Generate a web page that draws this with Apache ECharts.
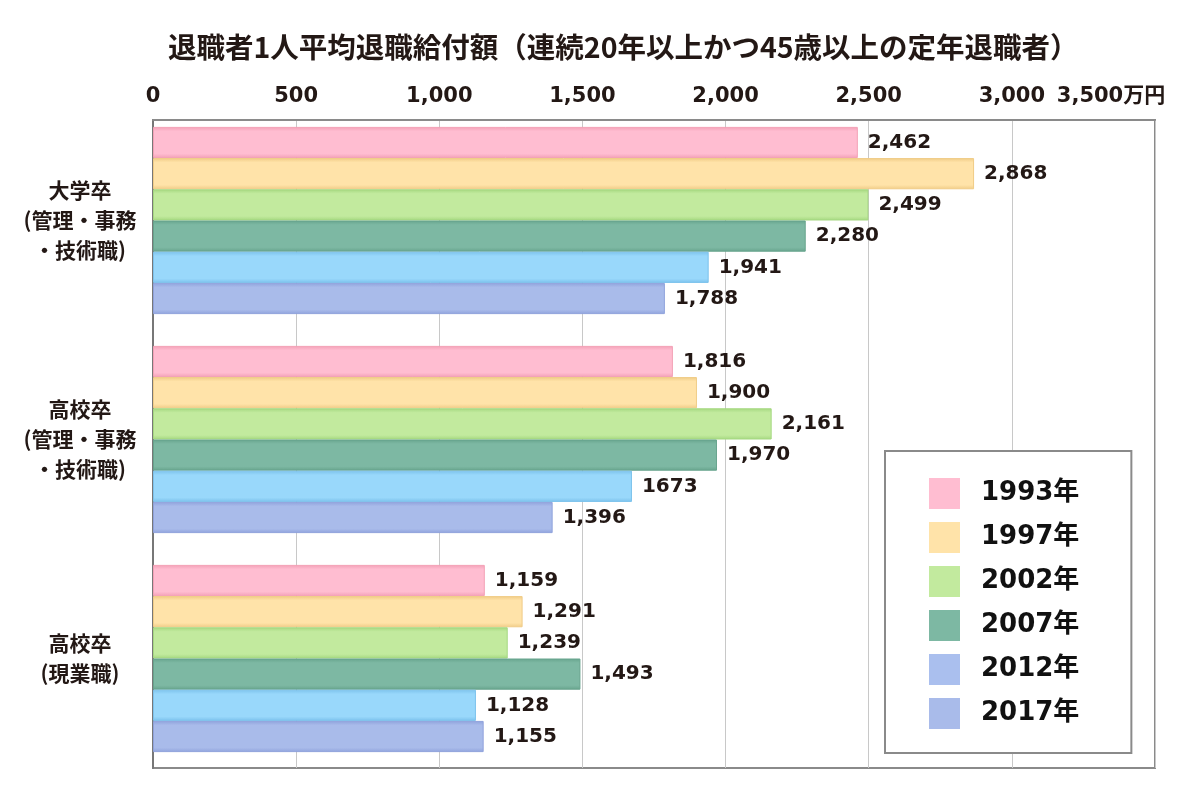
<!DOCTYPE html>
<html><head><meta charset="utf-8">
<script src="https://cdn.jsdelivr.net/npm/echarts@6/dist/echarts.min.js"></script>
<style>html,body{margin:0;padding:0;background:#fff}#c{width:1200px;height:800px}</style>
</head><body><div id="c"></div>
<script>
const titleText = '退職者1人平均退職給付額（連続20年以上かつ45歳以上の定年退職者）';
const categories = ['大学卒\n(管理・事務\n・技術職)', '高校卒\n(管理・事務\n・技術職)', '高校卒\n(現業職)'];
const years = ['1993年', '1997年', '2002年', '2007年', '2012年', '2017年'];
const s1993 = [2462, 1816, 1159];
const s1997 = [2868, 1900, 1291];
const s2002 = [2499, 2161, 1239];
const s2007 = [2280, 1970, 1493];
const s2012 = [1941, 1673, 1128];
const s2017 = [1788, 1396, 1155];
const seriesValues = [s1993, s1997, s2002, s2007, s2012, s2017];
// label shown without a thousands separator in the original
const plainLabels = { '2012年': [1] };
const axisMin = 0, axisMax = 3500, axisStep = 500;
const axisUnit = '万円';

const baseColors = ['#FFBDD1', '#FFE3A9', '#C2EA9E', '#7DB8A3', '#99D8FB', '#A9BBEA'];
const edgeColors = ['#F3A0B6', '#F0CC86', '#A5D880', '#67A48D', '#7CC2EC', '#8FA2DC'];
const legendColors = ['#FFBDD1', '#FFE3A9', '#C2EA9E', '#7DB8A3', '#AABFEE', '#A9BBEA'];

const FONT = '"DejaVu Sans", "Noto Sans CJK JP", sans-serif';
const CJK = '"Noto Sans CJK JP", sans-serif';
const INK = '#231815';

function fmt(v) { return v.toLocaleString('en-US'); }

const chart = echarts.init(document.getElementById('c'));
chart.setOption({
  backgroundColor: '#fff',
  animation: false,
  title: {
    text: titleText, left: 163, top: 28,
    textStyle: { fontFamily: CJK, fontWeight: 'bold', fontSize: 28.5, color: INK }
  },
  grid: [
    // bars grid (category bands)
    { left: 153, right: 45, top: 111, bottom: 32, show: false, outerBoundsMode: 'none', containLabel: false },
    // frame / value-axis grid
    { left: 153, right: 45, top: 120, bottom: 32, show: true, borderColor: '#8a8a8a', borderWidth: 2, outerBoundsMode: 'none', containLabel: false }
  ],
  xAxis: [
    { gridIndex: 0, type: 'value', min: axisMin, max: axisMax, interval: axisStep, show: false },
    {
      gridIndex: 1, type: 'value', position: 'top', min: axisMin, max: axisMax, interval: axisStep,
      axisLine: { show: true, lineStyle: { color: '#8a8a8a', width: 2 } },
      axisTick: { show: false },
      splitLine: { show: true, lineStyle: { color: '#c8c8c8', width: 1 } },
      axisLabel: {
        margin: 13, fontFamily: FONT, fontWeight: 'bold', fontSize: 21, color: INK,
        formatter: v => v === axisMax ? fmt(v) + axisUnit + '{p|}' : fmt(v),
        rich: { p: { width: 88 } }
      }
    }
  ],
  yAxis: [
    {
      gridIndex: 0, type: 'category', inverse: true, data: categories,
      axisLine: { show: false }, axisTick: { show: false },
      axisLabel: { margin: 73, align: 'center', fontFamily: CJK, fontWeight: 'bold', fontSize: 21, lineHeight: 30, color: INK }
    },
    {
      gridIndex: 1, type: 'category', inverse: true, data: categories,
      axisLine: { show: true, lineStyle: { color: '#777', width: 2 } },
      axisTick: { show: false }, axisLabel: { show: false }
    }
  ],
  legend: {
    orient: 'vertical', left: 885, top: 451,
    padding: [27, 52, 24, 44],
    borderColor: '#8a8a8a', borderWidth: 2, backgroundColor: '#fff',
    itemWidth: 31, itemHeight: 31, itemGap: 13, icon: 'rect',
    textStyle: { fontFamily: FONT, fontWeight: 'bold', fontSize: 26, color: '#111', padding: [0, 0, 0, 16] },
    data: years.map((y, i) => ({ name: y, itemStyle: { color: legendColors[i], borderWidth: 0 } }))
  },
  series: years.map((y, i) => ({
    name: y, type: 'bar', xAxisIndex: 0, yAxisIndex: 0,
    barGap: '0%', barCategoryGap: '14.5%',
    data: seriesValues[i],
    itemStyle: {
      borderColor: edgeColors[i], borderWidth: 1,
      color: new echarts.graphic.LinearGradient(0, 0, 0, 1, [
        { offset: 0, color: edgeColors[i] },
        { offset: 0.14, color: baseColors[i] },
        { offset: 0.86, color: baseColors[i] },
        { offset: 1, color: edgeColors[i] }
      ])
    },
    label: {
      show: true, position: 'right', distance: 10,
      fontFamily: FONT, fontWeight: 'bold', fontSize: 20, color: INK,
      formatter: p => (plainLabels[y] && plainLabels[y].includes(p.dataIndex)) ? String(p.value) : fmt(p.value)
    }
  }))
});
</script></body></html>
